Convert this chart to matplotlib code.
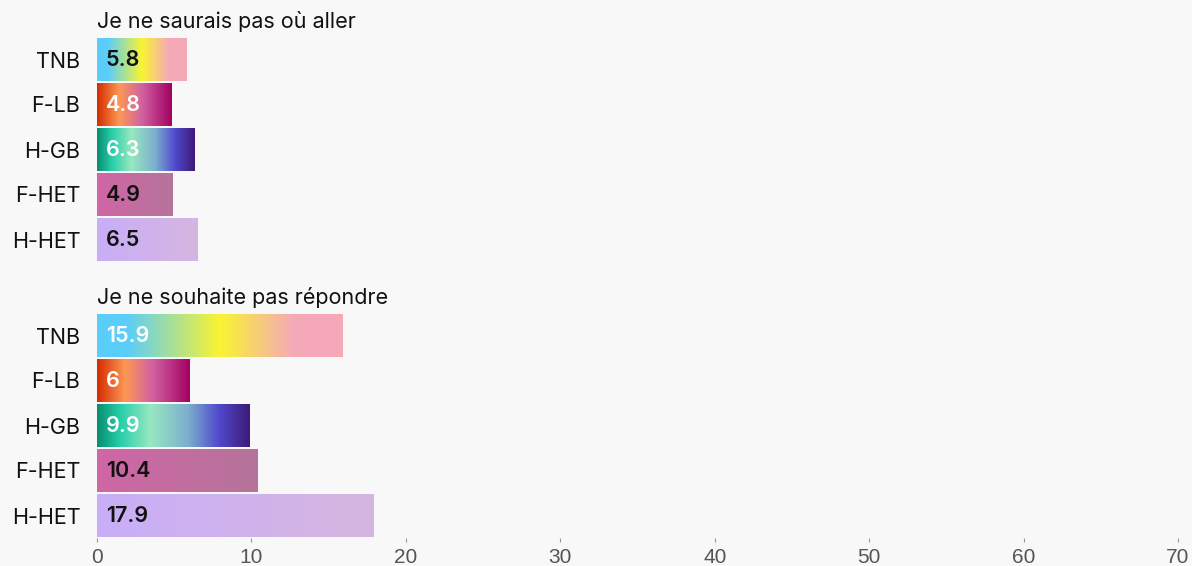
import matplotlib
matplotlib.use("Agg")
import matplotlib.pyplot as plt
import numpy as np
from matplotlib.colors import LinearSegmentedColormap

categories = ["TNB", "F-LB", "H-GB", "F-HET", "H-HET"]
group_titles = ["Je ne saurais pas où aller", "Je ne souhaite pas répondre"]
values_where = [5.8, 4.8, 6.3, 4.9, 6.5]
values_noanswer = [15.9, 6, 9.9, 10.4, 17.9]
label_colors_where = ["#111111", "white", "white", "#111111", "#111111"]
label_colors_noanswer = ["white", "white", "white", "#111111", "#111111"]
xticks = [0, 10, 20, 30, 40, 50, 60, 70]

gradients = {
    "TNB": [(0.0, "#5bcdfa"), (0.12, "#5bcdfa"), (0.5, "#f9f432"), (0.8, "#f5a9b8"), (1.0, "#f5a9b8")],
    "F-LB": [(0.0, "#d42c00"), (0.3, "#fd9855"), (0.6, "#d161a2"), (1.0, "#a20161")],
    "H-GB": [(0.0, "#078d70"), (0.15, "#26ceaa"), (0.35, "#98e8c1"), (0.6, "#7badce"), (0.8, "#5049cc"), (1.0, "#3d1a78")],
    "F-HET": [(0.0, "#d066a6"), (1.0, "#b5749b")],
    "H-HET": [(0.0, "#c8aef8"), (1.0, "#d6b6e0")],
}

BG = "#f8f8f8"
fig = plt.figure(figsize=(11.92, 5.66), dpi=100, facecolor=BG)
W, H = 1192, 566
left = 97 / W
width = 1081 / W
ax1 = fig.add_axes([left, 1 - 262 / H, width, 225 / H])
ax2 = fig.add_axes([left, 1 - 538 / H, width, 225 / H])

font = "Inter"
for ax, vals, lcols, title in [(ax1, values_where, label_colors_where, group_titles[0]),
                               (ax2, values_noanswer, label_colors_noanswer, group_titles[1])]:
    ax.set_facecolor(BG)
    y = np.arange(len(categories))
    bars = ax.barh(y, vals, height=0.956, color="none", edgecolor="none")
    ax.set_xlim(0, 70)
    ax.set_ylim(len(categories) - 0.5, -0.5)
    for bar, cat, v, lc in zip(bars, categories, vals, lcols):
        cmap = LinearSegmentedColormap.from_list(cat, gradients[cat])
        grad = np.linspace(0, 1, 256).reshape(1, -1)
        x0 = bar.get_x()
        y0 = bar.get_y()
        im = ax.imshow(grad, cmap=cmap, aspect="auto",
                       extent=[x0, x0 + bar.get_width(), y0 + bar.get_height(), y0],
                       interpolation="bilinear", zorder=2)
        im.set_clip_path(bar)
        ax.text(0.58, bar.get_y() + bar.get_height() / 2 + 0.02, f"{v:g}", color=lc,
                fontsize=15.5, fontweight="semibold", family=font,
                va="center", ha="left", zorder=3)
    ax.set_yticks(y)
    ax.set_yticklabels(categories, family=font, fontsize=15.5, color="#111111")
    ax.tick_params(axis="y", length=0, pad=12)
    for s in ax.spines.values():
        s.set_visible(False)
    ax.text(0, -0.62, title, family=font, fontsize=15.5, color="#111111",
            ha="left", va="bottom")
    ax.set_ylim(len(categories) - 0.5, -0.5)
    ax.set_xlim(0, 70)

ax1.set_xticks([])
ax2.set_xticks(xticks)
ax2.set_xticklabels([str(t) for t in xticks], family=["Liberation Sans Narrow", "Liberation Sans"],
                    fontsize=15, color="#555555")
ax2.tick_params(axis="x", length=3, width=0.8, color="#999999", pad=4)

fig.savefig("out.png", dpi=100, facecolor=BG)
